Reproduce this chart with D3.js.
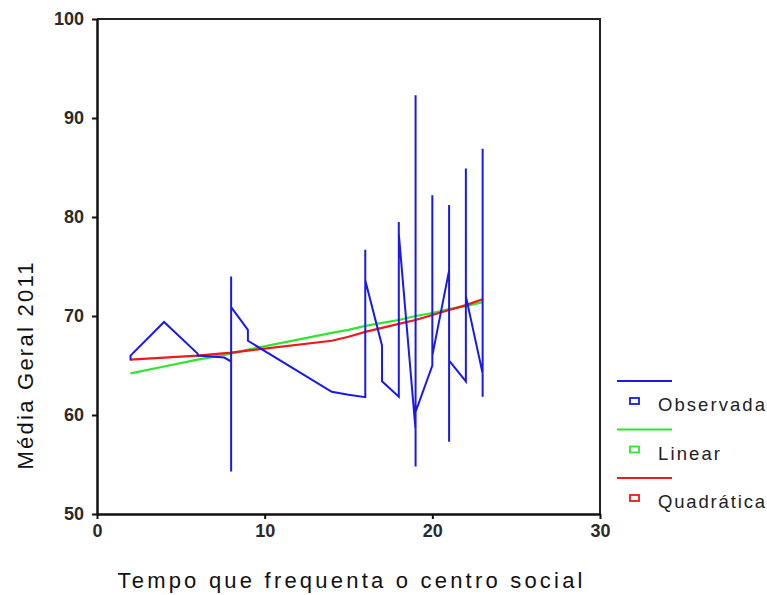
<!DOCTYPE html>
<html><head><meta charset="utf-8">
<script src="https://cdn.jsdelivr.net/npm/d3@7"></script>
<style>body{margin:0;background:#fff}svg{display:block}</style>
</head><body>
<script>
// Observed series (in drawing order, sorted by x as SPSS does)
const obsX = [2,2,4,6,6,7.6,8,8,8,8,9,9,14,15,16,16,16,17,17,18,18,18,19,19,19,19,20,20,20,21,21,21,21,22,22,22,23,23,23];
const obsY = [65.5,66.0,69.4,66.2,66.0,65.8,65.4,54.3,74.0,70.9,68.6,67.5,62.35,62.05,61.8,76.7,73.6,67.0,63.4,61.85,79.5,78.3,58.5,92.3,54.8,60.3,65.0,82.2,66.0,74.6,81.2,57.3,65.5,63.4,84.9,72.0,64.2,86.9,61.85];
// Fitted values at the distinct x values
const fitX = [2,4,6,8,9,14,15,16,17,18,19,20,21,22,23];
const linY = [64.2,64.9,65.6,66.2,66.6,68.3,68.6,69.0,69.3,69.6,70.0,70.3,70.7,71.0,71.4];
const quadY = [65.6,65.8,66.0,66.3,66.5,67.5,67.9,68.4,68.8,69.2,69.6,70.1,70.6,71.1,71.7];
const xTicks = [0,10,20,30];
const yTicks = [50,60,70,80,90,100];
const legendNames = ["Observada","Linear","Quadrática"];
const colors = ["#1a1ae6","#2ee62e","#f01818"];

const W=767,H=595;
const svg=d3.select("body").append("svg").attr("width",W).attr("height",H);
const x=d3.scaleLinear().domain([0,30]).range([97,600]);
const y=d3.scaleLinear().domain([50,100]).range([514,19]);

// frame (top & right)
svg.append("path").attr("d",`M${x(0)},${y(100)}H${x(30)}V${y(50)}`)
  .attr("fill","none").attr("stroke","#222").attr("stroke-width",2);

const font="'Liberation Sans', Arial, sans-serif";
const yAxis=svg.append("g").attr("transform",`translate(${x(0)},0)`)
  .call(d3.axisLeft(y).tickValues(yTicks).tickSize(5).tickPadding(8).tickSizeOuter(0));
const xAxis=svg.append("g").attr("transform",`translate(0,${y(50)})`)
  .call(d3.axisBottom(x).tickValues(xTicks).tickSize(5).tickPadding(5).tickSizeOuter(0));
[yAxis,xAxis].forEach(g=>{
  g.select(".domain").attr("stroke","#111").attr("stroke-width",2.5);
  g.selectAll(".tick line").attr("stroke","#111").attr("stroke-width",2);
  g.selectAll(".tick text").attr("font-family",font).attr("font-weight","bold")
   .attr("font-size",18).attr("fill","#2a2a2a");
});

const line=d3.line().x(d=>x(d[0])).y(d=>y(d[1]));
const series=[
  d3.zip(obsX,obsY),
  d3.zip(fitX,linY),
  d3.zip(fitX,quadY)
];
svg.append("path").datum(series[1]).attr("d",line).attr("fill","none")
  .attr("stroke",colors[1]).attr("stroke-width",2.2);
svg.append("path").datum(series[2]).attr("d",line).attr("fill","none")
  .attr("stroke",colors[2]).attr("stroke-width",2.2);
svg.append("path").datum(series[0]).attr("d",line).attr("fill","none")
  .attr("stroke",colors[0]).attr("stroke-width",2).attr("stroke-linejoin","miter");

// axis titles
svg.append("text").attr("x",350).attr("y",588).attr("text-anchor","middle")
  .attr("font-family",font).attr("font-size",22).attr("fill","#111")
  .attr("textLength",465).attr("lengthAdjust","spacing")
  .text("Tempo que frequenta o centro social");
svg.append("text").attr("transform","translate(33,366) rotate(-90)").attr("text-anchor","middle")
  .attr("font-family",font).attr("font-size",22).attr("fill","#111")
  .attr("textLength",207).attr("lengthAdjust","spacing")
  .text("Média Geral 2011");

// legend
const lg=svg.append("g");
const lens=[107,62,107];
legendNames.forEach((n,i)=>{
  const ly=381+i*48.5;
  lg.append("line").attr("x1",617).attr("x2",672).attr("y1",ly).attr("y2",ly)
    .attr("stroke",colors[i]).attr("stroke-width",2);
  lg.append("rect").attr("x",630).attr("y",ly+17).attr("width",9).attr("height",6)
    .attr("fill","#fff").attr("stroke",colors[i]).attr("stroke-width",1.8);
  lg.append("text").attr("x",658).attr("y",ly+30).attr("font-family",font)
    .attr("font-size",18.5).attr("fill","#222")
    .attr("textLength",lens[i]).attr("lengthAdjust","spacing").text(n);
});
</script>
</body></html>
